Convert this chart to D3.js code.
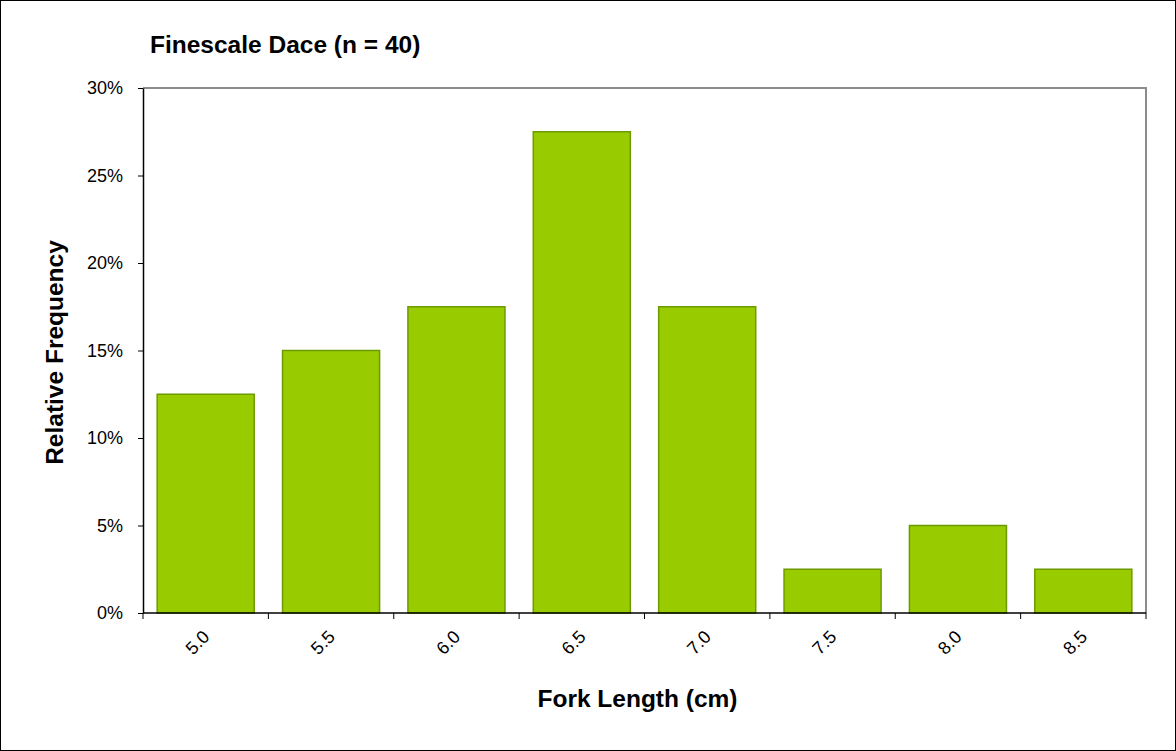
<!DOCTYPE html>
<html>
<head>
<meta charset="utf-8">
<script src="https://cdn.jsdelivr.net/npm/d3@7"></script>
<style>
  body { margin: 0; background: #fff; }
  text { font-family: "Liberation Sans", Arial, sans-serif; fill: #000; }
</style>
</head>
<body>
<div id="chart-area"></div>
<script>
// data
var lengths = ["5.0", "5.5", "6.0", "6.5", "7.0", "7.5", "8.0", "8.5"];
var relFreq = [0.125, 0.15, 0.175, 0.275, 0.175, 0.025, 0.05, 0.025];
var yTicks = [0, 0.05, 0.10, 0.15, 0.20, 0.25, 0.30];

var W = 1176, H = 751;
var margin = { left:143, right:30, top:88, bottom:138 },
    width = W - margin.left - margin.right,
    height = H - margin.top - margin.bottom;

var svg = d3.select("#chart-area").append("svg")
    .attr("width", W)
    .attr("height", H);

// outer frame
svg.append("rect")
    .attr("x", 0.5).attr("y", 0.5)
    .attr("width", W - 1).attr("height", H - 1)
    .attr("fill", "#fff")
    .attr("stroke", "#000");

var g = svg.append("g")
    .attr("transform", "translate(" + margin.left + "," + margin.top + ")");

// scales
var x = d3.scaleBand()
    .domain(lengths)
    .range([0, width])
    .paddingInner(0.226)
    .paddingOuter(0.113);
var y = d3.scaleLinear()
    .domain([0, 0.30])
    .range([height, 0]);

// plot frame top/right (gray)
g.append("path")
    .attr("d", "M0,0H" + width + "V" + height)
    .attr("fill", "none")
    .attr("stroke", "#8c8c8c")
    .attr("stroke-width", 2);

// bars
g.selectAll(".bar")
    .data(relFreq)
    .enter().append("rect")
    .attr("class", "bar")
    .attr("x", (d, i) => x(lengths[i]))
    .attr("y", d => y(d))
    .attr("width", x.bandwidth())
    .attr("height", d => height - y(d))
    .attr("fill", "#99cc00")
    .attr("stroke", "#6d9a00")
    .attr("stroke-width", 1.5);

// y axis
var yAxis = g.append("g")
    .call(d3.axisLeft(y).tickValues(yTicks).tickSize(5).tickSizeOuter(0)
        .tickFormat(d3.format(".0%")));
yAxis.select(".domain").attr("stroke", "#000").attr("stroke-width", 1.5);
yAxis.selectAll(".tick line").attr("stroke", "#000");
yAxis.selectAll(".tick text")
    .attr("x", -20)
    .style("font-size", "18px")
    .style("font-family", "Liberation Sans, Arial, sans-serif");

// x axis: ticks at band boundaries
var xAxis = g.append("g")
    .attr("transform", "translate(0," + height + ")");
xAxis.append("line")
    .attr("x1", 0).attr("x2", width)
    .attr("stroke", "#000").attr("stroke-width", 1.5);
var bounds = lengths.map(d => x(d) - x.step() * x.paddingInner() / 2).concat([width]);
xAxis.selectAll(".xtick")
    .data(bounds)
    .enter().append("line")
    .attr("class", "xtick")
    .attr("x1", d => d).attr("x2", d => d)
    .attr("y1", 0).attr("y2", 6)
    .attr("stroke", "#000");
xAxis.selectAll(".xlabel")
    .data(lengths)
    .enter().append("text")
    .attr("class", "xlabel")
    .attr("transform", d => "translate(" + (x(d) + x.bandwidth() / 2 + 0.5) + ",20.5) rotate(-45)")
    .attr("text-anchor", "end")
    .attr("dy", "0.35em")
    .style("font-size", "18px")
    .text(d => d);

// titles
svg.append("text")
    .attr("x", 150).attr("y", 53)
    .style("font-size", "24.5px")
    .style("font-weight", "bold")
    .text("Finescale Dace (n = 40)");

svg.append("text")
    .attr("x", margin.left + width / 2 - 7).attr("y", 707)
    .attr("text-anchor", "middle")
    .style("font-size", "24.5px")
    .style("font-weight", "bold")
    .text("Fork Length (cm)");

svg.append("text")
    .attr("transform", "translate(63," + (margin.top + height / 2 + 2) + ") rotate(-90)")
    .attr("text-anchor", "middle")
    .style("font-size", "24.5px")
    .style("font-weight", "bold")
    .text("Relative Frequency");
</script>
</body>
</html>
